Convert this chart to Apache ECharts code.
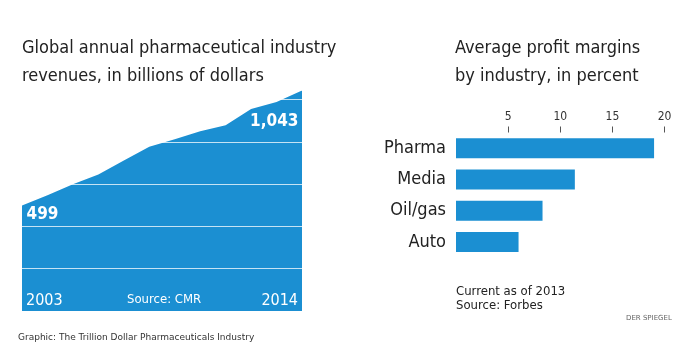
<!DOCTYPE html>
<html><head><meta charset="utf-8">
<script src="https://cdn.jsdelivr.net/npm/echarts@6/dist/echarts.min.js"></script>
<style>html,body{margin:0;padding:0;background:#fff}#c{width:699px;height:352px}</style>
</head><body><div id="c"></div>
<script>
const years = ['2003','2004','2005','2006','2007','2008','2009','2010','2011','2012','2013','2014'];
const revenues = [499, 548, 600, 646, 712, 777, 812, 850, 879, 956, 989, 1043];
const revGrid = [200, 400, 600, 800, 1000];
const industries = ['Pharma', 'Media', 'Oil/gas', 'Auto'];
const margins = [19.0, 11.4, 8.3, 6.0];
const marginTicks = [5, 10, 15, 20];

const BLUE = '#1b8fd2';
const COND = '"DejaVu Sans Condensed","Liberation Sans Narrow","DejaVu Sans",sans-serif';
const chart = echarts.init(document.getElementById('c'), null, {renderer: 'canvas'});
const fmt = v => v.toLocaleString('en-US');
const last = revenues.length - 1;

chart.setOption({
  animation: false,
  grid: [
    {left: 22, right: 397, top: 90.5, bottom: 41},
    {left: 456, right: 34.5, top: 132.5, bottom: 94.5}
  ],
  xAxis: [
    {gridIndex: 0, type: 'category', data: years, boundaryGap: false, z: 20,
     axisLine: {show: false}, axisTick: {show: false}, splitLine: {show: false},
     axisLabel: {show: true, inside: true, margin: 2, color: '#fff', fontFamily: COND, fontSize: 16,
       interval: (i) => i === 0 || i === years.length - 1,
       alignMinLabel: 'left', alignMaxLabel: 'right', padding: [0, 4, 0, 4]}},
    {gridIndex: 1, type: 'value', position: 'top', min: 0, max: 20, interval: 5,
     axisLine: {show: false},
     axisTick: {show: true, length: 6, lineStyle: {color: '#555', width: 1}, customValues: marginTicks},
     axisLabel: {show: true, margin: 10, color: '#333', fontFamily: COND, fontSize: 12, customValues: marginTicks},
     splitLine: {show: false}}
  ],
  yAxis: [
    {gridIndex: 0, type: 'value', min: 0, max: 1043, show: false, splitLine: {show: false}},
    {gridIndex: 1, type: 'category', data: industries, inverse: true,
     axisLine: {show: false}, axisTick: {show: false},
     axisLabel: {margin: 10, color: '#222', fontFamily: COND, fontSize: 18}}
  ],
  series: [
    {type: 'line', xAxisIndex: 0, yAxisIndex: 0,
     data: revenues.map((v, i) => {
       if (i === 0) return {value: v, label: {show: true, position: 'right', distance: 4, offset: [0, 9]}};
       if (i === last) return {value: v, label: {show: true, position: 'left', distance: 3, offset: [0, 31]}};
       return v;
     }),
     symbol: 'circle', symbolSize: 1, showSymbol: true,
     itemStyle: {color: 'rgba(0,0,0,0)', borderWidth: 0},
     lineStyle: {width: 0, color: BLUE},
     areaStyle: {color: BLUE, opacity: 1},
     label: {show: false, color: '#fff', fontWeight: 'bold', fontFamily: COND, fontSize: 17, formatter: p => fmt(p.value)},
     markLine: {silent: true, symbol: 'none', label: {show: false},
       lineStyle: {color: 'rgba(255,255,255,0.75)', type: 'solid', width: 1},
       data: revGrid.map(v => ({yAxis: v}))},
     z: 2},
    {type: 'bar', xAxisIndex: 1, yAxisIndex: 1, data: margins, barWidth: 20,
     itemStyle: {color: BLUE}}
  ],
  graphic: [
    {type: 'text', z: 100, left: 22, top: 34, style: {text: 'Global annual pharmaceutical industry\nrevenues, in billions of dollars',
      fill: '#222', font: '18px ' + COND, lineHeight: 28}},
    {type: 'text', z: 100, left: 455, top: 34, style: {text: 'Average profit margins\nby industry, in percent',
      fill: '#222', font: '18px ' + COND, lineHeight: 28}},
    {type: 'text', z: 100, left: 127, top: 293, style: {text: 'Source: CMR', fill: '#fff', font: '13px ' + COND}},
    {type: 'text', z: 100, left: 456, top: 285, style: {text: 'Current as of 2013\nSource: Forbes', fill: '#222', font: '13px ' + COND, lineHeight: 14}},
    {type: 'text', z: 100, left: 626, top: 315, style: {text: 'DER SPIEGEL', fill: '#666', font: '7px "DejaVu Sans",sans-serif'}},
    {type: 'text', z: 100, left: 18, top: 333, style: {text: 'Graphic: The Trillion Dollar Pharmaceuticals Industry', fill: '#333', font: '9px "DejaVu Sans",sans-serif'}}
  ]
});
</script></body></html>
